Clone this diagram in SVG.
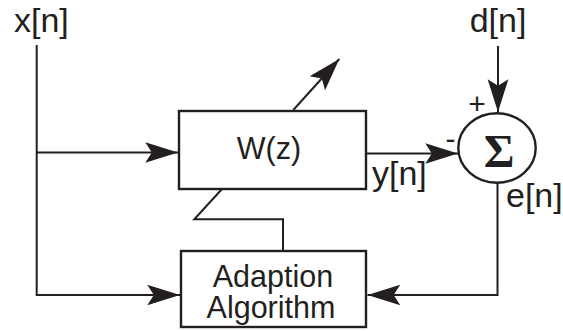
<svg xmlns="http://www.w3.org/2000/svg" width="563" height="331" viewBox="0 0 563 331">
  <defs>
    <style>
      .box { fill: #ffffff; stroke: #231f20; stroke-width: 2.4; }
      .wire { fill: none; stroke: #231f20; stroke-width: 2; }
      .lbl { font-family: "Liberation Sans", Arial, sans-serif; font-size: 34px; fill: #231f20; }
      .blk { font-family: "Liberation Sans", Arial, sans-serif; font-size: 30.5px; fill: #231f20; text-anchor: middle; }
      .sign { font-family: "Liberation Sans", Arial, sans-serif; font-size: 30px; fill: #231f20; text-anchor: middle; }
      .sigma { font-family: "Liberation Serif", "Times New Roman", serif; font-weight: bold; font-size: 47px; fill: #231f20; text-anchor: middle; }
    </style>
    <!-- barbed arrowhead, tip at the path end -->
    <marker id="arrow" markerUnits="userSpaceOnUse" markerWidth="40" markerHeight="24" viewBox="-31 -11 33 22" refX="0" refY="0" orient="auto">
      <path d="M0,0 L-30,-9.5 L-24,0 L-30,9.5 Z" fill="#231f20"/>
    </marker>
  </defs>

  <rect width="563" height="331" fill="#ffffff"/>

  <g id="connectors">
    <!-- input x[n] splits to the filter and the adaption block -->
    <path class="wire" d="M36.7,45 V295 H180"/>
    <path class="wire" d="M36.7,152.5 H178" marker-end="url(#arrow)"/>
    <path class="wire" d="M36.7,295 H180" marker-end="url(#arrow)"/>
    <!-- filter output to the summing junction -->
    <path class="wire" d="M366,153.5 H458" marker-end="url(#arrow)"/>
    <!-- desired signal -->
    <path class="wire" d="M498,46 V112" marker-end="url(#arrow)"/>
    <!-- error feedback -->
    <path class="wire" d="M497.5,182.5 V295 H367.5" marker-end="url(#arrow)"/>
    <!-- coefficient update -->
    <path class="wire" d="M283,250 V219.3 H194.3 L222,189"/>
    <!-- adjustable-filter arrow -->
    <path class="wire" d="M293.3,110 L339.3,59" marker-end="url(#arrow)"/>
  </g>

  <g id="label-x">
    <text class="lbl" x="14" y="31.5">x[n]</text>
  </g>
  <g id="label-d">
    <text class="lbl" x="498" y="31.5" text-anchor="middle">d[n]</text>
  </g>

  <g id="filter">
    <rect class="box" x="179" y="111" width="187" height="78"/>
    <text class="blk" x="269" y="159" font-size="27.5">W(z)</text>
  </g>

  <g id="adaption">
    <rect class="box" x="181" y="251" width="185" height="76"/>
    <text class="blk" x="273" y="287.3">Adaption</text>
    <text class="blk" x="271" y="318.3">Algorithm</text>
  </g>

  <g id="sum">
    <ellipse class="box" cx="497" cy="148" rx="38.7" ry="34.7"/>
    <text class="sigma" x="499" y="166.5">Σ</text>
    <text class="sign" x="477" y="113.6">+</text>
    <text class="sign" x="450.5" y="148.7">-</text>
  </g>

  <g id="label-y">
    <text class="lbl" x="372" y="185">y[n]</text>
  </g>
  <g id="label-e">
    <text class="lbl" x="506" y="207.3">e[n]</text>
  </g>
</svg>
